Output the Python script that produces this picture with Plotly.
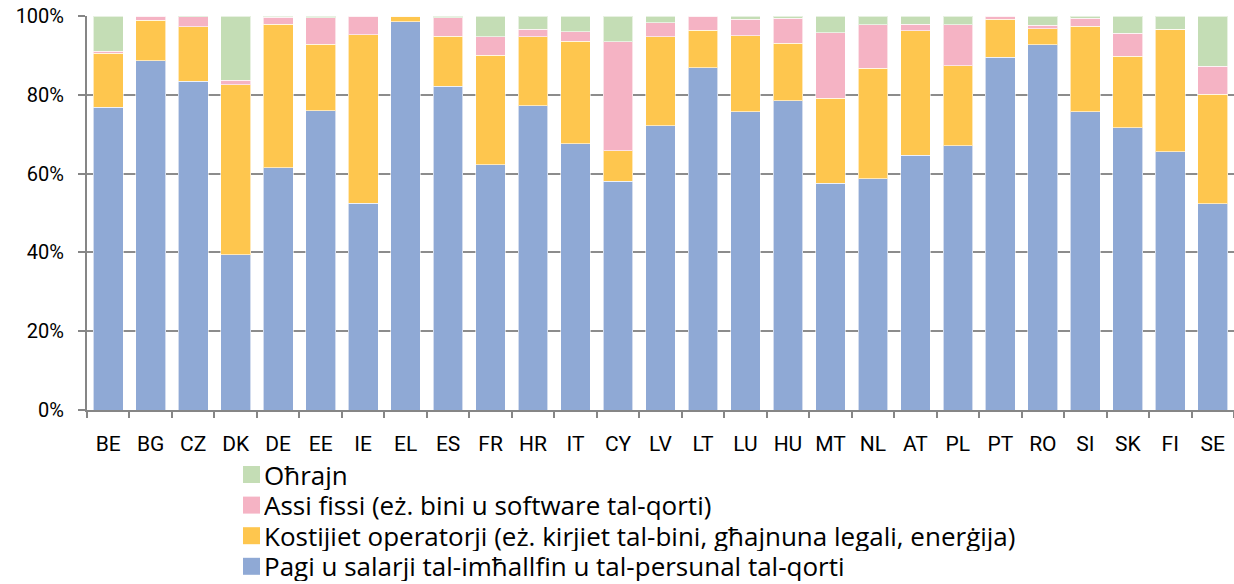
import plotly.graph_objects as go

countries = ["BE", "BG", "CZ", "DK", "DE", "EE", "IE", "EL", "ES", "FR", "HR", "IT", "CY", "LV",
             "LT", "LU", "HU", "MT", "NL", "AT", "PL", "PT", "RO", "SI", "SK", "FI", "SE"]

# Shares of the court budget (%), per category
pagi = [76.8, 88.7, 83.4, 39.4, 61.5, 75.9, 52.5, 98.5, 82.2, 62.2, 77.2, 67.6, 58.1, 72.1,
        86.9, 75.7, 78.5, 57.6, 58.7, 64.6, 67.1, 89.5, 92.7, 75.7, 71.6, 65.6, 52.4]
kostijiet = [13.7, 10.2, 13.9, 43.1, 36.4, 16.9, 42.7, 1.5, 12.7, 27.9, 17.5, 26.0, 7.7, 22.6,
             9.5, 19.3, 14.6, 21.5, 28.0, 31.6, 20.3, 9.7, 4.1, 21.7, 18.2, 31.1, 27.7]
assi = [0.5, 1.1, 2.5, 1.2, 1.8, 6.8, 4.8, 0.0, 4.7, 4.6, 2.0, 2.4, 27.7, 3.6,
        3.6, 4.2, 6.3, 16.7, 11.1, 1.7, 10.4, 0.8, 0.9, 2.0, 5.8, 0.0, 7.1]
ohrajn = [9.0, 0.0, 0.2, 16.3, 0.3, 0.4, 0.0, 0.0, 0.4, 5.3, 3.3, 4.0, 6.5, 1.7,
          0.0, 0.8, 0.6, 4.2, 2.2, 2.1, 2.2, 0.0, 2.3, 0.6, 4.4, 3.3, 12.8]

series = [
    ("Pagi u salarji tal-imħallfin u tal-persunal tal-qorti", pagi, "#8FA9D5"),
    ("Kostijiet operatorji (eż. kirjiet tal-bini, għajnuna legali, enerġija)", kostijiet, "#FEC64E"),
    ("Assi fissi (eż. bini u software tal-qorti)", assi, "#F5B3C4"),
    ("Oħrajn", ohrajn, "#C4DDB5"),
]

TICK_FONT = "Roboto, 'Open Sans', sans-serif"
LEGEND_FONT = "'Open Sans', Roboto, sans-serif"
W, H = 1234, 584
ML, MR, MT, MB = 87, 0, 16, 174
PW, PH = W - ML - MR, H - MT - MB


def px_x(px):
    return (px - ML) / PW


def px_y(py):
    return (H - MB - py) / PH


fig = go.Figure()
for name, vals, color in series:
    fig.add_trace(go.Bar(
        x=countries, y=[v / 100 for v in vals], name=name,
        marker=dict(color=color, line=dict(color="rgba(255,255,255,0.6)", width=1)),
        showlegend=False,
    ))

# Legend block below the axis: swatch + label, top entry is the last stacked series
sw = 17
row0, row_step = 466, 30.6
shapes, annotations = [], []
for i, (name, vals, color) in enumerate(reversed(series)):
    top = row0 + i * row_step
    shapes.append(dict(
        type="rect", xref="paper", yref="paper",
        x0=px_x(243), x1=px_x(243 + sw), y0=px_y(top + sw), y1=px_y(top),
        fillcolor=color, line=dict(width=0),
    ))
    annotations.append(dict(
        xref="paper", yref="paper", x=px_x(263), y=px_y(top + sw / 2),
        xanchor="left", yanchor="middle", text=name, showarrow=False,
        height=30, valign="middle", borderpad=0,
        font=dict(size=26, family=LEGEND_FONT, color="#000000"),
    ))

fig.update_layout(
    barmode="stack",
    bargap=0.3,
    width=W, height=H,
    margin=dict(l=ML, r=MR, t=MT, b=MB),
    paper_bgcolor="white", plot_bgcolor="white",
    font=dict(family=TICK_FONT, color="#000000"),
    showlegend=False,
    shapes=shapes,
    annotations=annotations,
    xaxis=dict(
        type="category",
        showline=True, linecolor="#868686", linewidth=2,
        ticks="outside", tickson="boundaries", ticklen=6, tickcolor="#868686", tickwidth=1.5,
        tickfont=dict(size=21, family=TICK_FONT),
        ticklabelstandoff=14,
        showgrid=False,
    ),
    yaxis=dict(
        range=[0, 1], tickvals=[0, 0.2, 0.4, 0.6, 0.8, 1.0], tickformat=".0%",
        showline=True, linecolor="#868686", linewidth=2,
        ticks="outside", ticklen=7, tickcolor="#868686", tickwidth=1.5,
        tickfont=dict(size=20, family=TICK_FONT),
        ticklabelstandoff=10,
        showgrid=True, gridcolor="#8C8C8C", gridwidth=2,
        zeroline=False,
    ),
)

fig.write_html("out.html")
